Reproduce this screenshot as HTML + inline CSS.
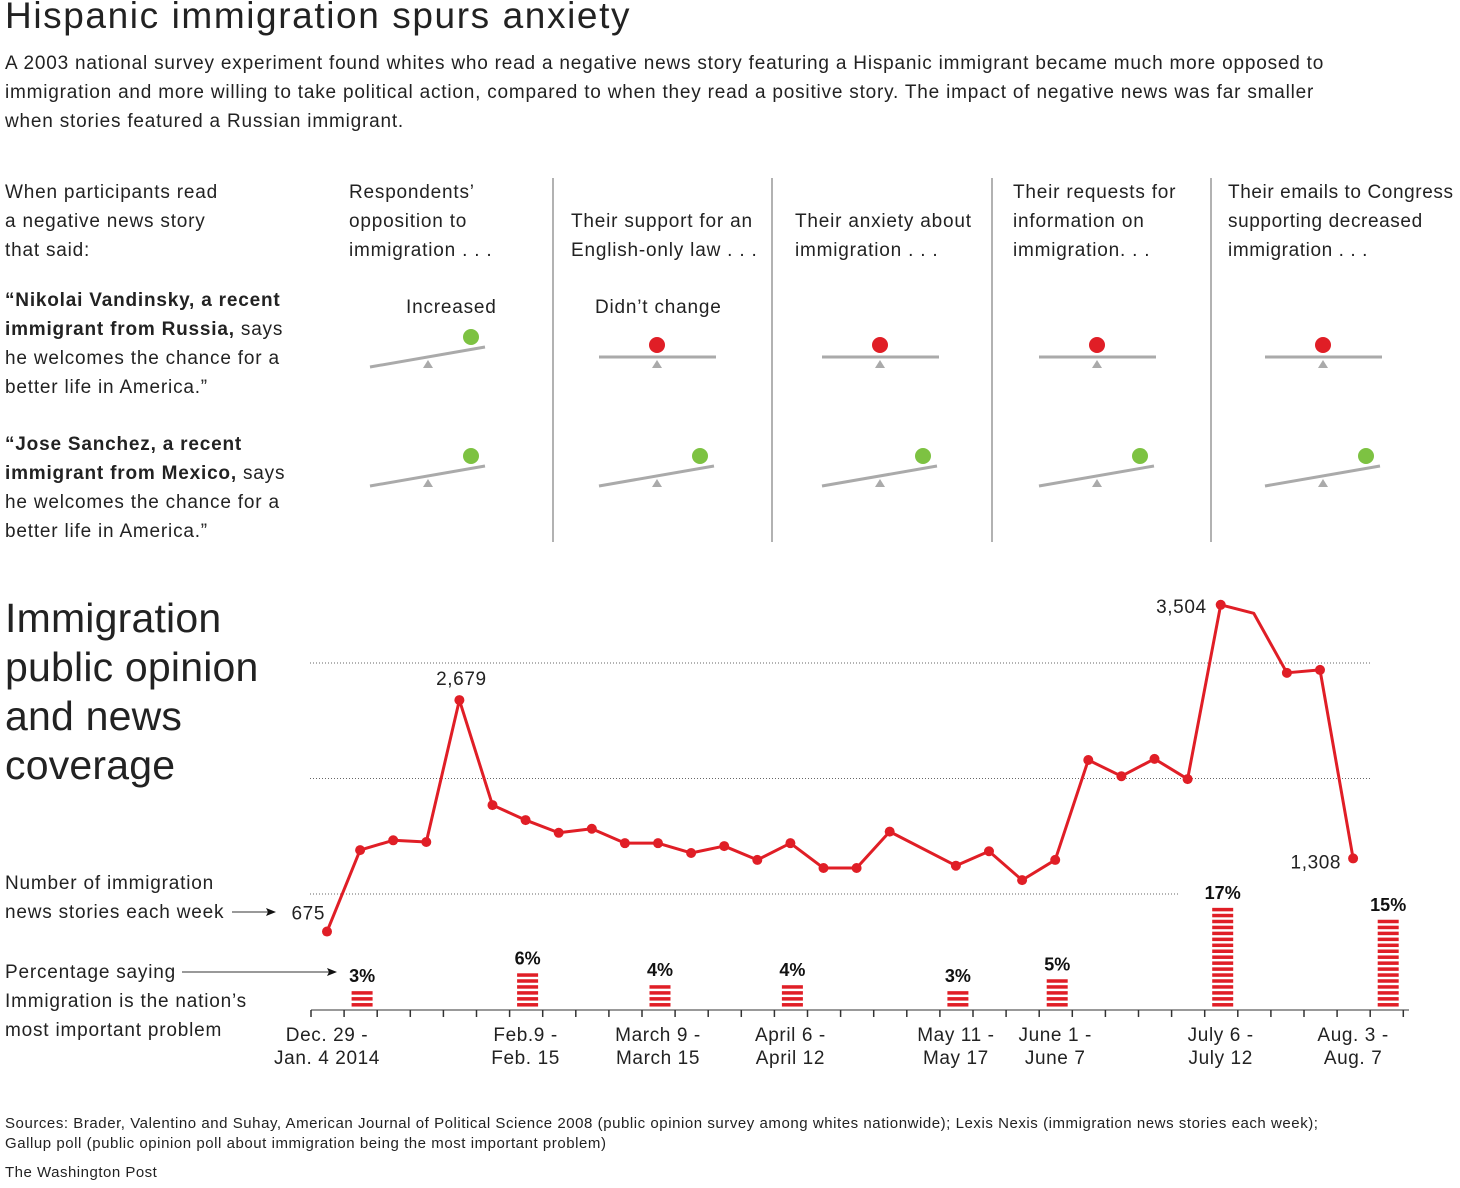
<!DOCTYPE html>
<html><head><meta charset="utf-8">
<style>
body{margin:0;width:1460px;height:1188px;background:#fff;position:relative;font-family:"Liberation Sans",sans-serif;color:#222;overflow:hidden}
.t{position:absolute;white-space:nowrap}
.b{font-size:19px;line-height:29px;letter-spacing:0.8px}
</style></head><body>
<div class="t" style="left:5px;top:-5px;font-size:37px;font-weight:300;letter-spacing:1.6px">Hispanic immigration spurs anxiety</div>
<div class="t b" style="left:5px;top:49px">A 2003 national survey experiment found whites who read a negative news story featuring a Hispanic immigrant became much more opposed to<br>immigration and more willing to take political action, compared to when they read a positive story. The impact of negative news was far smaller<br>when stories featured a Russian immigrant.</div>
<div class="t b" style="left:5px;top:178px">When participants read<br>a negative news story<br>that said:</div>
<div class="t b" style="left:5px;top:286px"><b>“Nikolai Vandinsky, a recent<br>immigrant from Russia,</b> says<br>he welcomes the chance for a<br>better life in America.”</div>
<div class="t b" style="left:5px;top:430px"><b>“Jose Sanchez, a recent<br>immigrant from Mexico,</b> says<br>he welcomes the chance for a<br>better life in America.”</div>
<div class="t b" style="left:349px;top:178px">Respondents’<br>opposition to<br>immigration . . .</div>
<div class="t b" style="left:571px;top:207px">Their support for an<br>English-only law . . .</div>
<div class="t b" style="left:795px;top:207px">Their anxiety about<br>immigration . . .</div>
<div class="t b" style="left:1013px;top:178px">Their requests for<br>information on<br>immigration. . .</div>
<div class="t b" style="left:1228px;top:178px;letter-spacing:0.6px">Their emails to Congress<br>supporting decreased<br>immigration . . .</div>
<div class="t b" style="left:406px;top:293px">Increased</div>
<div class="t b" style="left:595px;top:293px">Didn’t change</div>
<div class="t" style="left:5px;top:594px;font-size:41px;font-weight:300;line-height:49px;letter-spacing:0.2px">Immigration<br>public opinion<br>and news<br>coverage</div>
<div class="t b" style="left:5px;top:869px">Number of immigration<br>news stories each week</div>
<div class="t b" style="left:5px;top:958px">Percentage saying<br>Immigration is the nation’s<br>most important problem</div>
<div class="t" style="left:5px;top:1114px;font-size:15px;line-height:20px;letter-spacing:0.55px">Sources: Brader, Valentino and Suhay, American Journal of Political Science 2008 (public opinion survey among whites nationwide); Lexis Nexis (immigration news stories each week);<br>Gallup poll (public opinion poll about immigration being the most important problem)</div>
<div class="t" style="left:5px;top:1164px;font-size:15px;letter-spacing:0.5px">The Washington Post</div>
<svg id="svg" width="1460" height="1188" style="position:absolute;left:0;top:0" font-family="Liberation Sans, sans-serif"></svg>
<script>
const weekLabels=[["Dec. 29 -","Jan. 4 2014",0],["Feb.9 -","Feb. 15",6],["March 9 -","March 15",10],["April 6 -","April 12",14],["May 11 -","May 17",19],["June 1 -","June 7",22],["July 6 -","July 12",27],["Aug. 3 -","Aug. 7",31]];
const stories=[675,1380,1465,1450,2679,1770,1640,1530,1565,1440,1440,1355,1415,1295,1440,1225,1225,1540,null,1245,1370,1120,1295,2160,2020,2170,1995,3504,3430,2915,2940,1308];
const hasDot=[1,1,1,1,1,1,1,1,1,1,1,1,1,1,1,1,1,1,0,1,1,1,1,1,1,1,1,1,0,1,1,1];
const pollWeeks=[1,6,10,14,19,22,27,32];
const pollPct=[3,6,4,4,3,5,17,15];
const gridVals=[1000,2000,3000];
const svg=document.getElementById('svg');const NS='http://www.w3.org/2000/svg';
function mk(tag,at,name,txt){const e=document.createElementNS(NS,tag);for(const k in at)e.setAttribute(k,at[k]);


if(txt!==undefined)e.textContent=txt;svg.appendChild(e);return e;}
const X=i=>327+i*33.1; const Y=v=>1009.5-v*0.1155;
[553,772,992,1211].forEach(x=>mk('line',{x1:x,y1:178,x2:x,y2:542,stroke:'#999','stroke-width':1.5},'column-divider'));
const cols=[428,657,880,1097,1323];
function seesaw(cx,base,tilt){
 const y0=base; if(tilt){mk('line',{x1:cx-58,y1:y0+10,x2:cx+57,y2:y0-10,stroke:'#aaa','stroke-width':3},'seesaw-beam');
 mk('circle',{cx:cx+43,cy:y0-20,r:8,fill:'#7dc242'},'seesaw-ball-green');}
 else{mk('line',{x1:cx-58,y1:y0,x2:cx+59,y2:y0,stroke:'#aaa','stroke-width':3},'seesaw-beam');
 mk('circle',{cx:cx,cy:y0-12,r:8,fill:'#e01e26'},'seesaw-ball-red');}
 mk('polygon',{points:`${cx-5},${y0+11} ${cx+5},${y0+11} ${cx},${y0+3}`,fill:'#aaa'},'seesaw-fulcrum');
}
cols.forEach((c,i)=>{seesaw(c,357,i===0);seesaw(c,476,true);});
gridVals.forEach((v,i)=>mk('line',{x1:310,y1:Y(v),x2:i===0?1178:1372,y2:Y(v),stroke:'#666','stroke-width':1,'stroke-dasharray':'1 2'},'gridline'));
mk('line',{x1:311,y1:1010,x2:1409,y2:1010,stroke:'#999','stroke-width':2},'x-axis');
for(let i=0;i<=33;i++){const x=311+i*33.1;mk('line',{x1:x,y1:1010,x2:x,y2:1017,stroke:'#333','stroke-width':1.5},'x-tick');}
weekLabels.forEach(w=>{const x=X(w[2]);mk('text',{x:x,y:1041,'font-size':19,'text-anchor':'middle',fill:'#222','letter-spacing':0.6},'x-label',w[0]);mk('text',{x:x,y:1064,'font-size':19,'text-anchor':'middle',fill:'#222','letter-spacing':0.6},'x-label',w[1]);});
let d='';stories.forEach((v,i)=>{if(v===null)return;d+=(d?'L':'M')+X(i)+','+Y(v);});
mk('path',{d:d,fill:'none',stroke:'#e01e26','stroke-width':3,'stroke-linejoin':'round'},'news-line');
stories.forEach((v,i)=>{if(v!==null&&hasDot[i])mk('circle',{cx:X(i),cy:Y(v),r:5,fill:'#e01e26'},'news-point');});
mk('text',{x:X(0)-2,y:Y(stories[0])-12,'font-size':19,'text-anchor':'end',fill:'#222','letter-spacing':0.6},'value-label','675');
mk('text',{x:X(4)+2,y:Y(stories[4])-15,'font-size':19,'text-anchor':'middle',fill:'#222','letter-spacing':0.6},'value-label','2,679');
mk('text',{x:X(27)-14,y:Y(stories[27])+8,'font-size':19,'text-anchor':'end',fill:'#222','letter-spacing':0.6},'value-label','3,504');
mk('text',{x:X(31)-12,y:Y(stories[31])+10,'font-size':19,'text-anchor':'end',fill:'#222','letter-spacing':0.6},'value-label','1,308');
pollWeeks.forEach((w,j)=>{const x=X(w)+2;const p=pollPct[j];
 for(let k=0;k<p;k++)mk('rect',{x:x-10.5,y:1008-(k+1)*5.95+1,width:21,height:3.5,fill:'#e01e26'},'poll-bar-stripe');
 mk('text',{x:x,y:1008-p*5.95-8,'font-size':18,'font-weight':'bold','text-anchor':'middle',fill:'#111'},'poll-value',p+'%');});
mk('line',{x1:232,y1:912,x2:270,y2:912,stroke:'#333','stroke-width':1},'arrow-line');
mk('polygon',{points:'276,912 266,908 268,912 266,916',fill:'#111'},'arrow-head');
mk('line',{x1:182,y1:972,x2:330,y2:972,stroke:'#333','stroke-width':1},'arrow-line');
mk('polygon',{points:'337,972 327,968 329,972 327,976',fill:'#111'},'arrow-head');
</script>
</body></html>
